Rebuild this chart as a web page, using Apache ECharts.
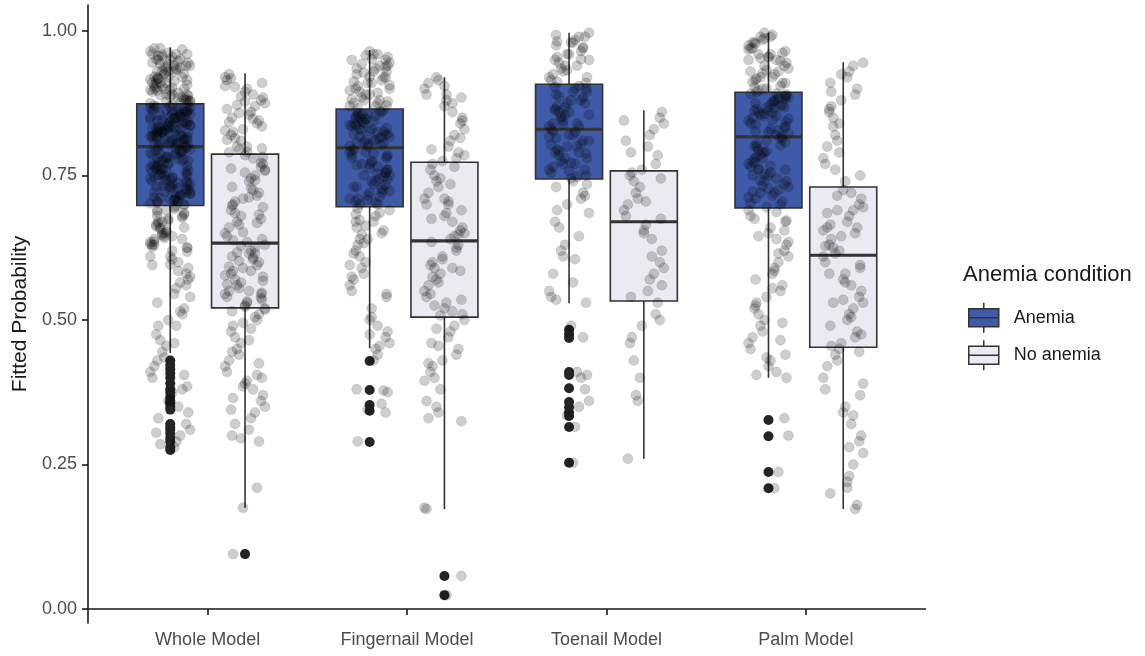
<!DOCTYPE html>
<html>
<head>
<meta charset="utf-8">
<title>Fitted Probability by model</title>
<script src="https://cdn.jsdelivr.net/npm/echarts@6/dist/echarts.min.js"></script>
<style>
  html, body { margin: 0; padding: 0; background: #fff; }
  #chart { width: 1145px; height: 656px; }
</style>
</head>
<body>
<div id="chart"></div>
<script>
// categories on the x axis
var categories = ["Whole Model", "Fingernail Model", "Toenail Model", "Palm Model"];
var yTicks = [0, 0.25, 0.5, 0.75, 1];

// box stats per model: [low whisker, Q1, median, Q3, high whisker]
var anemiaBoxes = [
  [0.443, 0.698, 0.800, 0.874, 0.972],
  [0.451, 0.696, 0.798, 0.865, 0.967],
  [0.529, 0.744, 0.830, 0.908, 0.997],
  [0.400, 0.694, 0.817, 0.894, 0.997]
];
var noAnemiaBoxes = [
  [0.175, 0.521, 0.633, 0.787, 0.927],
  [0.173, 0.505, 0.637, 0.773, 0.920],
  [0.260, 0.533, 0.670, 0.758, 0.863],
  [0.173, 0.453, 0.612, 0.730, 0.946]
];

// outliers drawn by the boxplot (solid dark dots)
var anemiaOutliers = [
  [0.430, 0.422, 0.415, 0.408, 0.400, 0.390, 0.380, 0.375, 0.367, 0.360, 0.356, 0.350, 0.345, 0.320, 0.315, 0.310, 0.304, 0.296, 0.290, 0.280, 0.275],
  [0.429, 0.379, 0.353, 0.343, 0.289],
  [0.483, 0.475, 0.469, 0.410, 0.405, 0.382, 0.358, 0.349, 0.340, 0.334, 0.315, 0.253],
  [0.327, 0.299, 0.237, 0.209]
];
var noAnemiaOutliers = [
  [0.095],
  [0.057, 0.024],
  [],
  []
];

// jittered observations, per model
var anemiaPoints = [
  [0.97,0.965,0.96,0.96,0.955,0.95,0.948,0.945,0.94,0.94,0.937,0.935,0.93,0.93,0.926,0.92,0.92,0.918,0.915,0.91,0.91,0.905,0.90,0.90,0.898,0.895,0.89,0.89,0.887,0.885,0.88,0.88,0.878,0.876,0.96,0.94,0.92,0.90,0.885,0.93,0.95,0.91,0.97,0.89,0.955,0.925,0.905,0.875,0.945,0.915,
   0.872,0.87,0.866,0.862,0.86,0.857,0.855,0.85,0.848,0.845,0.842,0.84,0.838,0.835,0.832,0.83,0.828,0.825,0.822,0.82,0.818,0.815,0.812,0.81,0.808,0.805,0.802,0.80,0.868,0.853,0.843,0.833,0.823,0.813,0.858,0.836,0.826,0.816,0.806,0.864,0.846,0.829,0.803,0.851,0.819,0.841,0.811,0.834,0.859,0.824,
   0.798,0.795,0.79,0.788,0.785,0.78,0.778,0.775,0.77,0.768,0.765,0.76,0.758,0.755,0.75,0.748,0.745,0.74,0.738,0.735,0.73,0.728,0.725,0.72,0.718,0.715,0.71,0.708,0.705,0.70,0.792,0.782,0.772,0.762,0.752,0.742,0.732,0.722,0.712,0.702,0.786,0.766,0.746,0.726,0.706,0.776,0.756,0.736,0.716,0.796,
   0.695,0.69,0.685,0.68,0.675,0.67,0.665,0.66,0.655,0.65,0.645,0.64,0.635,0.63,0.625,0.62,0.61,0.60,0.59,0.58,0.575,0.565,0.555,0.545,0.53,0.52,0.51,0.50,0.49,0.475,0.465,0.455,0.445,0.435,0.42,0.41,0.40,0.385,0.375,0.36,0.35,0.34,0.32,0.31,0.30,0.29,0.28,0.68,0.66,0.64,
   0.962,0.957,0.951,0.943,0.938,0.931,0.927,0.921,0.916,0.911,0.907,0.902,0.897,0.893,0.888,0.883,0.879,0.951,0.933,0.913,0.897,0.881,0.968,0.942,0.917,0.903,0.889,0.877,0.959,0.936,
   0.871,0.867,0.863,0.861,0.856,0.852,0.849,0.844,0.839,0.837,0.831,0.827,0.821,0.817,0.814,0.809,0.804,0.801,0.869,0.854,0.839,0.825,0.812,0.866,0.847,0.831,0.816,0.862,0.843,0.807,0.873,0.857,0.837,0.821,0.804,0.849,0.828,0.861,0.818,0.833,
   0.797,0.793,0.787,0.783,0.777,0.773,0.767,0.763,0.757,0.753,0.747,0.743,0.737,0.733,0.727,0.723,0.717,0.713,0.707,0.703,0.699,0.791,0.771,0.751,0.731,0.711,0.781,0.761,0.741,0.721,0.789,0.769,0.749,0.729,0.709,0.779,0.759,0.739,0.719,0.794,
   0.697,0.692,0.687,0.682,0.677,0.672,0.667,0.662,0.657,0.652,0.647,0.642,0.636,0.631,0.626,0.618,0.605,0.596,0.585,0.57,0.56,0.54,0.515,0.49,0.46,0.43,0.405,0.38,0.36,0.33,0.305,0.285,0.69,0.67,0.65,0.63,0.61,0.595,0.625,0.645],
  [0.965,0.96,0.955,0.95,0.945,0.94,0.935,0.93,0.925,0.92,0.915,0.91,0.905,0.90,0.895,0.89,0.885,0.88,0.875,0.87,0.95,0.93,0.91,0.89,0.875,0.94,0.92,0.90,0.88,0.87,0.96,0.935,
   0.863,0.86,0.857,0.855,0.852,0.85,0.847,0.845,0.842,0.84,0.837,0.835,0.832,0.83,0.827,0.825,0.822,0.82,0.817,0.815,0.812,0.81,0.807,0.805,0.802,0.80,0.858,0.838,0.818,0.848,0.828,0.808,
   0.795,0.79,0.785,0.78,0.775,0.77,0.765,0.76,0.755,0.75,0.745,0.74,0.735,0.73,0.725,0.72,0.715,0.71,0.705,0.70,0.79,0.77,0.75,0.73,0.71,0.78,0.76,0.74,0.72,0.70,0.785,0.755,
   0.69,0.685,0.68,0.67,0.66,0.655,0.65,0.64,0.63,0.62,0.61,0.60,0.59,0.58,0.57,0.56,0.55,0.54,0.52,0.50,0.49,0.48,0.47,0.46,0.455,0.45,0.43,0.38,0.378,0.355,0.345,0.29,0.67,0.64,
   0.958,0.943,0.928,0.912,0.897,0.882,0.871,0.951,0.921,0.893,0.878,0.938,0.906,
   0.861,0.853,0.844,0.836,0.826,0.816,0.804,0.866,0.849,0.831,0.811,0.856,0.841,0.821,0.801,
   0.793,0.783,0.773,0.763,0.753,0.743,0.733,0.723,0.713,0.703,0.788,0.768,0.748,0.728,0.708,
   0.693,0.683,0.673,0.663,0.648,0.633,0.615,0.595,0.575,0.545,0.505,0.475,0.44,0.375,0.34],
  [0.997,0.99,0.985,0.98,0.975,0.97,0.965,0.96,0.955,0.95,0.945,0.94,0.935,0.93,0.925,0.92,0.915,0.91,0.98,0.96,0.94,0.92,0.99,0.95,
   0.905,0.90,0.895,0.89,0.885,0.88,0.875,0.87,0.865,0.86,0.855,0.85,0.845,0.84,0.835,0.83,0.90,0.88,0.86,0.84,0.895,0.875,0.855,0.835,
   0.825,0.82,0.815,0.81,0.805,0.80,0.795,0.79,0.785,0.78,0.775,0.77,0.765,0.76,0.755,0.75,0.745,0.82,0.80,0.78,0.76,0.81,0.79,0.77,
   0.74,0.73,0.72,0.71,0.70,0.69,0.67,0.66,0.63,0.62,0.61,0.58,0.55,0.54,0.53,0.49,0.48,0.41,0.405,0.38,0.36,0.35,0.315,0.253,
   0.993,0.972,0.951,0.932,0.912,0.903,0.887,0.868,0.852,0.838,0.826,0.817,0.803,0.788,0.772,0.758,0.748,0.735,0.715,0.685,0.645,0.605,0.565,0.535,0.47,0.40,0.335,0.982,0.863,0.792],
  [0.997,0.99,0.985,0.98,0.975,0.97,0.965,0.96,0.955,0.95,0.945,0.94,0.935,0.93,0.925,0.92,0.915,0.91,0.905,0.90,0.895,0.98,0.96,0.94,0.92,0.90,0.97,0.95,0.93,0.91,0.99,0.955,
   0.892,0.89,0.887,0.885,0.882,0.88,0.877,0.875,0.872,0.87,0.867,0.865,0.862,0.86,0.857,0.855,0.852,0.85,0.845,0.84,0.835,0.83,0.825,0.82,0.888,0.868,0.848,0.828,0.878,0.858,0.838,0.818,
   0.815,0.81,0.805,0.80,0.795,0.79,0.785,0.78,0.775,0.77,0.765,0.76,0.755,0.75,0.745,0.74,0.735,0.73,0.725,0.72,0.715,0.71,0.705,0.70,0.695,0.80,0.78,0.76,0.74,0.72,0.79,0.75,
   0.69,0.68,0.67,0.66,0.65,0.64,0.63,0.62,0.61,0.60,0.59,0.58,0.57,0.56,0.55,0.54,0.53,0.52,0.51,0.50,0.49,0.48,0.47,0.46,0.45,0.44,0.43,0.42,0.41,0.40,0.33,0.30,0.237,0.209,
   0.993,0.978,0.962,0.948,0.932,0.918,0.903,0.897,0.987,0.953,0.927,0.912,0.968,
   0.891,0.883,0.873,0.863,0.853,0.843,0.833,0.823,0.886,0.866,0.846,0.826,
   0.812,0.802,0.792,0.782,0.772,0.762,0.752,0.742,0.732,0.722,0.712,0.702,0.807,0.767,0.727,
   0.687,0.672,0.655,0.635,0.615,0.585,0.555,0.525,0.495,0.465,0.435,0.405,0.675,0.645]
];
var noAnemiaPoints = [
  [0.925,0.92,0.915,0.91,0.90,0.895,0.89,0.885,0.88,0.875,0.87,0.86,0.855,0.85,0.845,0.84,0.83,0.825,0.82,0.815,0.81,0.80,0.795,0.79,0.905,0.865,0.835,0.80,
   0.785,0.78,0.77,0.765,0.76,0.75,0.745,0.74,0.73,0.72,0.715,0.71,0.70,0.69,0.685,0.68,0.67,0.665,0.66,0.65,0.645,0.64,0.635,0.755,0.725,0.695,0.675,
   0.63,0.625,0.62,0.615,0.61,0.60,0.595,0.59,0.585,0.58,0.57,0.565,0.56,0.555,0.55,0.545,0.54,0.535,0.53,0.525,0.605,0.575,0.545,0.52,0.615,0.585,0.55,
   0.515,0.51,0.50,0.495,0.49,0.48,0.47,0.46,0.45,0.44,0.43,0.42,0.41,0.40,0.395,0.39,0.38,0.37,0.36,0.35,0.34,0.33,0.31,0.30,0.29,0.21,0.175,0.095,
   0.918,0.903,0.887,0.872,0.858,0.842,0.828,0.812,0.797,0.791,0.878,0.848,
   0.782,0.772,0.758,0.742,0.728,0.712,0.698,0.682,0.668,0.652,0.638,0.762,0.705,
   0.628,0.617,0.602,0.592,0.577,0.562,0.547,0.532,0.523,0.608,0.568,0.538,
   0.518,0.505,0.485,0.465,0.445,0.425,0.405,0.385,0.365,0.345,0.32,0.295],
  [0.92,0.915,0.91,0.90,0.89,0.885,0.88,0.87,0.86,0.85,0.84,0.83,0.82,0.81,0.80,0.795,0.79,0.78,0.775,
   0.77,0.76,0.75,0.745,0.74,0.73,0.72,0.71,0.70,0.69,0.685,0.68,0.67,0.66,0.655,0.65,0.645,0.64,0.70,
   0.635,0.63,0.62,0.61,0.60,0.595,0.59,0.58,0.57,0.565,0.56,0.55,0.54,0.535,0.53,0.52,0.515,0.51,0.585,
   0.50,0.49,0.48,0.47,0.46,0.45,0.44,0.43,0.42,0.41,0.40,0.38,0.35,0.34,0.33,0.175,0.173,0.057,0.024,
   0.905,0.875,0.845,0.815,0.785,0.765,0.735,0.705,0.675,0.648,0.625,0.605,0.575,0.545,0.525,0.508,0.485,0.455,0.425,0.395,0.36,0.325,0.89,0.71,0.59],
  [0.86,0.85,0.84,0.83,0.82,0.80,0.79,0.785,0.77,0.76,
   0.755,0.75,0.74,0.73,0.72,0.71,0.70,0.69,0.68,0.675,
   0.665,0.65,0.64,0.62,0.60,0.59,0.58,0.57,0.55,0.54,
   0.53,0.51,0.49,0.47,0.46,0.43,0.40,0.37,0.36,0.26,
   0.845,0.81,0.745,0.705,0.655,0.61,0.56,0.50],
  [0.945,0.94,0.93,0.92,0.91,0.90,0.89,0.88,0.87,0.86,0.85,0.84,0.82,0.81,0.80,0.78,0.77,0.75,0.74,
   0.725,0.72,0.71,0.70,0.695,0.69,0.68,0.67,0.665,0.66,0.65,0.645,0.64,0.63,0.625,0.62,0.615,0.69,0.66,
   0.61,0.60,0.59,0.58,0.57,0.56,0.55,0.54,0.53,0.52,0.51,0.50,0.49,0.48,0.47,0.46,0.455,0.58,0.53,
   0.45,0.44,0.43,0.42,0.40,0.38,0.37,0.35,0.34,0.32,0.30,0.29,0.27,0.25,0.23,0.22,0.20,0.18,0.173,
   0.925,0.895,0.865,0.835,0.79,0.76,0.715,0.685,0.655,0.628,0.595,0.565,0.535,0.505,0.475,0.445,0.39,0.335,0.28,0.21]
];

// layout constants (x axis units, one category = 1)
var DODGE = 0.1875;
var BOX_HALF = 0.168;
var JITTER = [-0.08, 0.05, -0.02, 0.09, -0.06, 0.01, 0.07, -0.1, 0.03, -0.04, 0.08, -0.07, 0.0, 0.06, -0.09, 0.02, -0.03, 0.1, -0.05, 0.04, -0.01, 0.085, -0.065];

var FONT = "Liberation Sans, Arial, sans-serif";
var ANEMIA_FILL = "#3F5AA8";
var NO_ANEMIA_FILL = "#EAEAF2";
var EDGE = "#333333";

function boxRows(boxes) {
  return boxes.map(function (b, i) { return [i + 1].concat(b); });
}

function outlierRows(list, offset) {
  var out = [];
  list.forEach(function (vals, i) {
    vals.forEach(function (v) { out.push([i + 1 + offset, v]); });
  });
  return out;
}

function jitterRows(list, offset) {
  var out = [];
  var k = 0;
  list.forEach(function (vals, i) {
    vals.forEach(function (v) {
      out.push([i + 1 + offset + JITTER[(k * 7) % JITTER.length], v]);
      k++;
    });
  });
  return out;
}

function renderBox(offset, fill) {
  return function (params, api) {
    var x = api.value(0) + offset;
    var lo = api.coord([x, api.value(1)]);
    var hi = api.coord([x, api.value(5)]);
    var tl = api.coord([x - BOX_HALF, api.value(4)]);
    var br = api.coord([x + BOX_HALF, api.value(2)]);
    var md = api.coord([x, api.value(3)]);
    return {
      type: "group",
      children: [
        { type: "line", shape: { x1: lo[0], y1: lo[1], x2: hi[0], y2: hi[1] },
          style: { stroke: EDGE, lineWidth: 1.6 } },
        { type: "rect", shape: { x: tl[0], y: tl[1], width: br[0] - tl[0], height: br[1] - tl[1] },
          style: { fill: fill, stroke: EDGE, lineWidth: 1.6 } },
        { type: "line", shape: { x1: tl[0], y1: md[1], x2: br[0], y2: md[1] },
          style: { stroke: EDGE, lineWidth: 3.2 } }
      ]
    };
  };
}

// legend key: whisker + box + median line
var BOX_ICON = "path://M15,0L15,6M0,6L30,6L30,24L0,24ZM0,15L30,15M15,24L15,30";

var chart = echarts.init(document.getElementById("chart"));

chart.setOption({
  animation: false,
  backgroundColor: "#ffffff",
  title: {
    text: "Anemia condition",
    left: 958,
    top: 259,
    textStyle: { fontFamily: FONT, fontSize: 22, fontWeight: "normal", color: "#1a1a1a" }
  },
  legend: {
    orient: "vertical",
    left: 963,
    top: 297,
    itemWidth: 30,
    itemHeight: 30,
    itemGap: 6,
    textStyle: { fontFamily: FONT, fontSize: 18, color: "#1a1a1a", padding: [0, 0, 0, 10] },
    data: [
      { name: "Anemia", icon: BOX_ICON, itemStyle: { color: ANEMIA_FILL, borderColor: EDGE, borderWidth: 1.5 } },
      { name: "No anemia", icon: BOX_ICON, itemStyle: { color: NO_ANEMIA_FILL, borderColor: EDGE, borderWidth: 1.5 } }
    ]
  },
  grid: { left: 88, right: 219.5, top: 5, bottom: 33, containLabel: false },
  xAxis: {
    type: "value",
    min: 0.4,
    max: 4.6,
    splitLine: { show: false },
    axisLine: { show: true, lineStyle: { color: "#1a1a1a", width: 1.6 } },
    axisTick: { show: true, length: 6, customValues: [1, 2, 3, 4], lineStyle: { color: "#1a1a1a", width: 1.6 } },
    axisLabel: {
      customValues: [1, 2, 3, 4],
      margin: 8,
      fontFamily: FONT,
      fontSize: 18,
      color: "#4d4d4d",
      formatter: function (v) { return categories[Math.round(v) - 1] || ""; }
    }
  },
  yAxis: {
    type: "value",
    min: -0.0242,
    max: 1.045,
    name: "Fitted Probability",
    nameLocation: "middle",
    nameRotate: 90,
    nameGap: 53,
    nameTextStyle: { fontFamily: FONT, fontSize: 21, color: "#1a1a1a" },
    splitLine: { show: false },
    axisLine: { show: true, lineStyle: { color: "#1a1a1a", width: 1.6 } },
    axisTick: { show: true, length: 6, customValues: yTicks, lineStyle: { color: "#1a1a1a", width: 1.6 } },
    axisLabel: {
      customValues: yTicks,
      margin: 11,
      fontFamily: FONT,
      fontSize: 18,
      color: "#4d4d4d",
      formatter: function (v) { return v.toFixed(2); }
    }
  },
  series: [
    {
      name: "Anemia",
      type: "custom",
      itemStyle: { color: ANEMIA_FILL, borderColor: EDGE },
      renderItem: renderBox(-DODGE, ANEMIA_FILL),
      encode: { x: 0, y: [1, 2, 3, 4, 5] },
      data: boxRows(anemiaBoxes),
      z: 1
    },
    {
      name: "No anemia",
      type: "custom",
      itemStyle: { color: NO_ANEMIA_FILL, borderColor: EDGE },
      renderItem: renderBox(DODGE, NO_ANEMIA_FILL),
      encode: { x: 0, y: [1, 2, 3, 4, 5] },
      data: boxRows(noAnemiaBoxes),
      z: 1
    },
    {
      type: "scatter",
      symbolSize: 10,
      itemStyle: { color: "#242424", opacity: 1 },
      data: outlierRows(anemiaOutliers, -DODGE).concat(outlierRows(noAnemiaOutliers, DODGE)),
      clip: false,
      silent: true,
      z: 2
    },
    {
      type: "scatter",
      symbolSize: 10,
      itemStyle: { color: "rgba(0,0,0,0.24)", borderColor: "rgba(0,0,0,0.12)", borderWidth: 1 },
      data: jitterRows(anemiaPoints, -DODGE).concat(jitterRows(noAnemiaPoints, DODGE)),
      clip: false,
      silent: true,
      z: 3
    }
  ]
});
</script>
</body>
</html>
